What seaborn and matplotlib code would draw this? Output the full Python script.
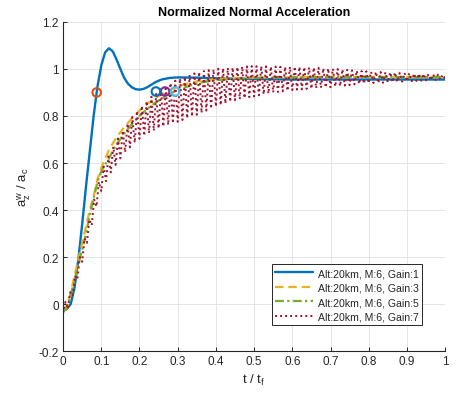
import numpy as np
import pandas as pd
import matplotlib
matplotlib.use("Agg")
import matplotlib.pyplot as plt
import seaborn as sns

# ---------------- data ----------------
t_g1 = [0.00, 0.01, 0.02, 0.03, 0.04, 0.05, 0.06, 0.07, 0.08, 0.09, 0.10, 0.11,
        0.12, 0.13, 0.14, 0.15, 0.16, 0.17, 0.18, 0.19, 0.20, 0.21, 0.22, 0.23,
        0.24, 0.25, 0.26, 0.28, 0.30, 0.35, 0.40, 0.50, 0.60, 0.70, 0.80, 0.90, 1.00]
y_g1 = [-0.03, -0.02, 0.00, 0.07, 0.19, 0.34, 0.50, 0.65, 0.80, 0.925, 1.015, 1.07,
        1.088, 1.075, 1.04, 1.00, 0.962, 0.937, 0.922, 0.914, 0.912, 0.915, 0.922, 0.932,
        0.942, 0.950, 0.956, 0.962, 0.964, 0.963, 0.960, 0.957, 0.955, 0.955, 0.955, 0.955, 0.955]

t_g3 = [0.00, 0.01, 0.02, 0.03, 0.04, 0.05, 0.06, 0.07, 0.08, 0.09, 0.10, 0.12,
        0.14, 0.16, 0.18, 0.20, 0.22, 0.24, 0.26, 0.28, 0.30, 0.33, 0.36, 0.40,
        0.45, 0.50, 0.60, 0.70, 0.80, 0.90, 1.00]
y_g3 = [-0.03, -0.01, 0.05, 0.12, 0.19, 0.26, 0.33, 0.40, 0.46, 0.53, 0.58, 0.655,
        0.71, 0.752, 0.79, 0.823, 0.851, 0.874, 0.894, 0.911, 0.925, 0.94, 0.95, 0.957,
        0.961, 0.963, 0.965, 0.966, 0.966, 0.966, 0.966]

t_g5 = [0.00, 0.01, 0.02, 0.03, 0.04, 0.05, 0.06, 0.07, 0.08, 0.09, 0.10, 0.12,
        0.14, 0.16, 0.18, 0.20, 0.22, 0.24, 0.26, 0.28, 0.30, 0.33, 0.36, 0.40,
        0.45, 0.50, 0.60, 0.70, 0.80, 0.90, 1.00]
y_g5 = [-0.03, -0.02, 0.04, 0.10, 0.17, 0.23, 0.30, 0.38, 0.45, 0.52, 0.565, 0.62,
        0.68, 0.725, 0.765, 0.80, 0.83, 0.855, 0.875, 0.895, 0.91, 0.928, 0.942, 0.952,
        0.958, 0.962, 0.965, 0.966, 0.966, 0.965, 0.965]

# Gain 7 oscillates fast: its troughs (at t = 0, 0.0125, ... 1) and peaks (between them)
g7_troughs = [-0.04, -0.02, 0.035, 0.105, 0.18, 0.26, 0.335, 0.415, 0.48, 0.523,
              0.56, 0.592, 0.62, 0.646, 0.667, 0.686, 0.703, 0.716, 0.727, 0.737,
              0.747, 0.755, 0.762, 0.769, 0.775, 0.783, 0.79, 0.798, 0.805, 0.813,
              0.823, 0.831, 0.84, 0.846, 0.853, 0.86, 0.867, 0.871, 0.876, 0.88,
              0.883, 0.888, 0.892, 0.895, 0.90, 0.902, 0.905, 0.907, 0.91, 0.912,
              0.913, 0.915, 0.916, 0.918, 0.92, 0.921, 0.922, 0.925, 0.927, 0.929,
              0.931, 0.934, 0.936, 0.937, 0.939, 0.94, 0.94, 0.941, 0.942, 0.944,
              0.945, 0.946, 0.947, 0.948, 0.949, 0.95, 0.951, 0.952, 0.953, 0.954,
              0.955]
g7_peaks = [0.01, 0.05, 0.12, 0.2, 0.28, 0.36, 0.445, 0.52, 0.585, 0.628,
            0.669, 0.704, 0.737, 0.768, 0.796, 0.821, 0.843, 0.863, 0.882, 0.899,
            0.914, 0.927, 0.94, 0.95, 0.959, 0.966, 0.974, 0.981, 0.987, 0.991,
            0.995, 0.998, 1.001, 1.003, 1.005, 1.006, 1.008, 1.01, 1.011, 1.012,
            1.012, 1.012, 1.011, 1.01, 1.01, 1.009, 1.009, 1.009, 1.01, 1.009,
            1.008, 1.006, 1.006, 1.005, 1.003, 1.002, 1.001, 1.0, 0.998, 0.996,
            0.994, 0.993, 0.991, 0.99, 0.988, 0.988, 0.987, 0.986, 0.986, 0.985,
            0.984, 0.983, 0.982, 0.981, 0.98, 0.979, 0.978, 0.977, 0.976, 0.975]
t_g7 = list(np.linspace(0.0, 1.0, 161))
y_g7 = [v for pair in zip(g7_troughs, g7_peaks) for v in pair] + [g7_troughs[-1]]

# 90% rise-time markers
mark_t = [0.088, 0.267, 0.293, 0.243]
mark_y = [0.90, 0.904, 0.904, 0.904]

labels = ["Alt:20km, M:6, Gain:1", "Alt:20km, M:6, Gain:3",
          "Alt:20km, M:6, Gain:5", "Alt:20km, M:6, Gain:7"]

x_ticks = [0, 0.1, 0.2, 0.3, 0.4, 0.5, 0.6, 0.7, 0.8, 0.9, 1]
x_tick_labels = ["0", "0.1", "0.2", "0.3", "0.4", "0.5", "0.6", "0.7", "0.8", "0.9", "1"]
y_ticks = [-0.2, 0, 0.2, 0.4, 0.6, 0.8, 1.0, 1.2]
y_tick_labels = ["-0.2", "0", "0.2", "0.4", "0.6", "0.8", "1", "1.2"]

# ---------------- style ----------------
sns.set_theme(style="white")
plt.rcParams["font.family"] = ["Liberation Sans", "DejaVu Sans"]
plt.rcParams["mathtext.fontset"] = "custom"
plt.rcParams["mathtext.rm"] = "Liberation Sans"
plt.rcParams["mathtext.it"] = "Liberation Sans"

line_colors = ["#0072BD", "#EDB120", "#77AC30", "#A2142F"]
marker_colors = ["#D95319", "#7E2F8E", "#4DBEEE", "#0072BD"]
axc = "#262626"

fig = plt.figure(figsize=(4.57, 4.02), dpi=100)
ax = fig.add_axes([0.138, 0.124, 0.836, 0.819])

series = [(t_g1, y_g1), (t_g3, y_g3), (t_g5, y_g5), (t_g7, y_g7)]
styles = [dict(linestyle="-", linewidth=1.7),
          dict(linestyle=(0, (3.8, 2.2)), linewidth=1.6),
          dict(linestyle=(0, (4.0, 1.5, 1.0, 1.5)), linewidth=1.6),
          dict(linestyle=(0, (1.0, 1.6)), linewidth=1.4)]
for (tt, yy), c, lab, st in zip(series, line_colors, labels, styles):
    df = pd.DataFrame({"t": tt, "y": yy})
    sns.lineplot(data=df, x="t", y="y", ax=ax, color=c,
                 label=lab, sort=False, estimator=None, **st)

mdf = pd.DataFrame({"t": mark_t, "y": mark_y, "k": ["a", "b", "c", "d"]})
sns.scatterplot(data=mdf, x="t", y="y", hue="k", palette=marker_colors,
                ax=ax, marker="o", s=38, linewidth=1.5,
                legend=False, zorder=5)
for coll in ax.collections:
    coll.set_facecolor("none")
    coll.set_edgecolor(marker_colors)

ax.set_xlim(0, 1)
ax.set_ylim(-0.2, 1.2)
ax.set_xticks(x_ticks)
ax.set_xticklabels(x_tick_labels)
ax.set_yticks(y_ticks)
ax.set_yticklabels(y_tick_labels)
ax.grid(True, color="#e0e0e0", linewidth=0.6)
ax.set_axisbelow(True)
for s in ["top", "right"]:
    ax.spines[s].set_visible(False)
for s in ["left", "bottom"]:
    ax.spines[s].set_color(axc)
    ax.spines[s].set_linewidth(0.8)
ax.tick_params(direction="in", length=3, width=0.7, colors=axc, labelsize=8.5,
               bottom=True, left=True, pad=3)

ax.set_xlabel(r"t / t$_\mathregular{f}$", fontsize=9.5, color=axc, labelpad=3)
ax.set_ylabel(r"a$_\mathregular{z}^\mathregular{w}$ / a$_\mathregular{c}$",
              fontsize=9.5, color=axc, labelpad=4)
ax.set_title("Normalized Normal Acceleration", fontsize=9, fontweight="bold",
             color="black", pad=5)

leg = ax.legend(loc="lower right", bbox_to_anchor=(0.94, 0.079), fontsize=7.6,
                handlelength=3.6, handletextpad=0.4, borderpad=0.35,
                labelspacing=0.42, fancybox=False, framealpha=1,
                edgecolor=axc, borderaxespad=0)
leg.get_frame().set_linewidth(0.7)

fig.savefig("out.png", dpi=100)
